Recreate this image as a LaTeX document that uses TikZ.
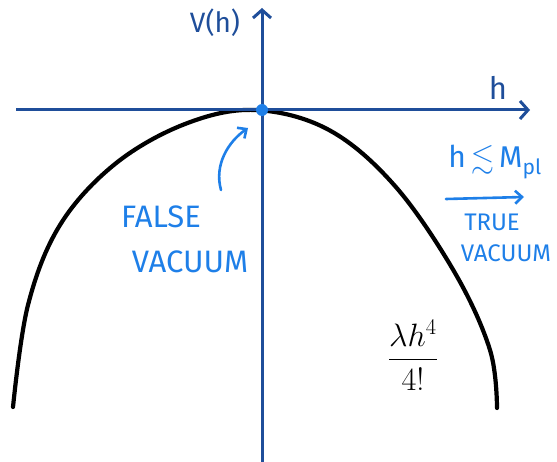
\documentclass[tikz,border=0pt]{standalone}
\usepackage{fontspec}
\setmainfont{Fira Sans}
\usepackage{amsmath,amssymb}
\usetikzlibrary{arrows.meta}
\definecolor{axisblue}{HTML}{1F4E9A}
\definecolor{labblue}{HTML}{1E7FE8}
\tikzset{
  axis/.style={draw=axisblue, line width=3pt, -{Straight Barb[length=8pt,width=18pt,line width=3pt]}},
  curve/.style={draw=black, line width=4.2pt, line cap=round},
  lab/.style={text=labblue, font=\fontsize{31}{33}\selectfont, inner sep=0pt},
  labsmall/.style={text=labblue, font=\fontsize{24}{26}\selectfont, inner sep=0pt},
  barrow/.style={draw=labblue, line width=2.6pt, line cap=round, -{Straight Barb[length=7pt,width=13pt,line width=2.6pt]}}
}
\begin{document}
\begin{tikzpicture}[x=1pt,y=-1pt]
\useasboundingbox (0,0) rectangle (557,462);
% curve
\draw[curve] plot[smooth, tension=0.6] coordinates {(13,407) (28,305) (60,225) (115,164) (185,124) (255,110) (329,130) (395,186) (455,273) (490,350) (497,408)};
% axes
\coordinate (yb) at (262,462);
\coordinate (yt) at (262,8);
\coordinate (xl) at (16,110);
\coordinate (xr) at (530,110);
\draw[axis] (yb) -- (yt);
\draw[axis] (xl) -- (xr);
\node[circle, fill=labblue, inner sep=0pt, minimum size=12pt] (dot) at (262,110) {};
% labels
\node[text=axisblue, font=\fontsize{28}{30}\selectfont, inner sep=0pt] (V) at (215,23) {V(h)};
\node[text=axisblue, font=\fontsize{31}{33}\selectfont, inner sep=0pt] (h) at (498,88) {h};
\node[lab] (false) at (161,217) {FALSE};
\node[lab] (vac1) at (190,262) {VACUUM};
\coordinate (fa) at (221,190);
\coordinate (fb) at (248,128);
\draw[barrow] (fa) .. controls (214,165) and (228,142) .. (fb);
\node[text=labblue, inner sep=0pt, font=\fontsize{30}{32}\selectfont] (cond) at (495,162) {h\,$\lesssim$\,M$_{\text{pl}}$};
\coordinate (ta) at (446,199);
\coordinate (tb) at (524,197);
\draw[barrow] (ta) -- (tb);
\node[labsmall] (true) at (492,222) {TRUE};
\node[labsmall] (vac2) at (506,253) {VACUUM};
\node[text=black, inner sep=0pt, font=\fontsize{24}{26}\selectfont] (frac) at (413,355) {\scalebox{1.3}{$\dfrac{\lambda h^{4}}{4!}$}};
\end{tikzpicture}
\end{document}
